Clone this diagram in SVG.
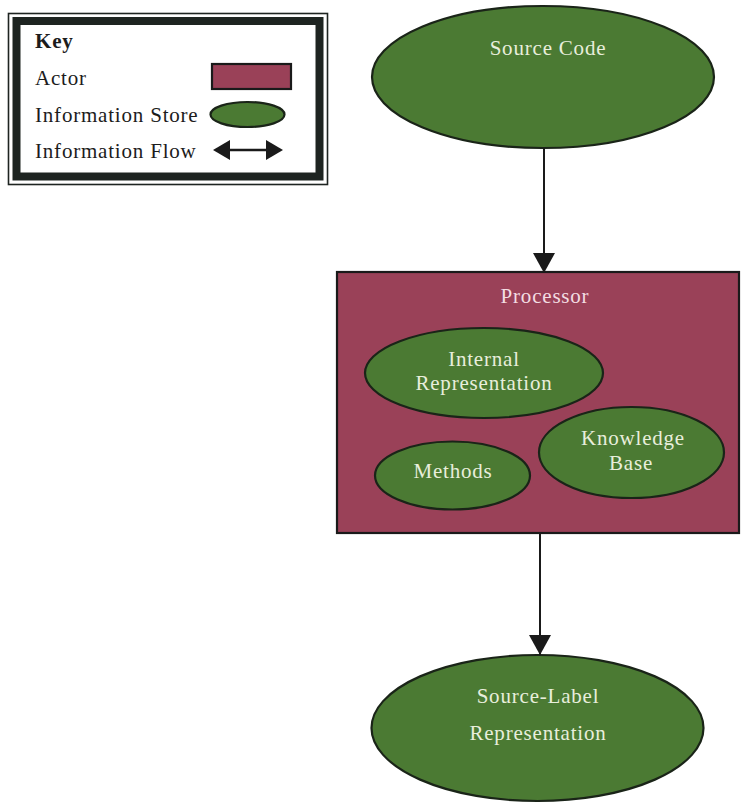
<svg xmlns="http://www.w3.org/2000/svg" width="742" height="803" viewBox="0 0 742 803">
  <style>
    .lbl { font-family: "Liberation Serif", "DejaVu Serif", serif; font-size: 21px; letter-spacing: 0.8px; }
    .key { fill: #1c1c1c; text-anchor: start; }
    .store { fill: #4b7a33; stroke: #1a2418; stroke-width: 2.2; }
    .actor { fill: #9a4158; stroke: #1a1a1a; stroke-width: 2.2; }
    .ontxt { fill: #e8eedc; text-anchor: middle; }
    .actxt { fill: #f3dde2; text-anchor: middle; }
    .flow { stroke: #1a1a1a; stroke-width: 2; fill: none; }
  </style>
  <defs>
    <marker id="head" viewBox="0 0 20 22" refX="20" refY="11" markerWidth="20" markerHeight="22" markerUnits="userSpaceOnUse" orient="auto">
      <path d="M0,0 L20,11 L0,22 Z" fill="#1a1a1a"/>
    </marker>
  </defs>

  <rect width="742" height="803" fill="#ffffff"/>

  <!-- legend panel with a triple frame -->
  <g id="legend">
    <rect x="8.5" y="13.5" width="319" height="171" fill="none" stroke="#1e2421" stroke-width="1.6"/>
    <rect x="16.5" y="21" width="303" height="155.5" fill="#ffffff" stroke="#1e2421" stroke-width="8"/>
    <text class="lbl key" x="35" y="48" font-weight="bold">Key</text>
    <text class="lbl key" x="35" y="85">Actor</text>
    <text class="lbl key" x="35" y="122">Information Store</text>
    <text class="lbl key" x="35" y="158">Information Flow</text>
    <rect class="actor" x="212" y="64" width="79" height="25"/>
    <ellipse class="store" cx="247.5" cy="114.5" rx="37" ry="12.5"/>
    <line x1="228" y1="150" x2="268" y2="150" stroke="#1a1a1a" stroke-width="2.5"/>
    <path d="M213,150 L230,140 L230,160 Z" fill="#1a1a1a"/>
    <path d="M283,150 L266,140 L266,160 Z" fill="#1a1a1a"/>
  </g>

  <g id="source-code">
    <ellipse class="store" cx="543" cy="77" rx="171" ry="71"/>
    <text class="lbl ontxt" x="548" y="55">Source Code</text>
  </g>

  <g id="processor">
    <rect class="actor" x="337" y="272" width="402" height="261"/>
    <text class="lbl actxt" x="545" y="303">Processor</text>
  </g>

  <g id="internal-representation">
    <ellipse class="store" cx="484" cy="373" rx="119" ry="45"/>
    <text class="lbl ontxt" x="484" y="366">Internal</text>
    <text class="lbl ontxt" x="484" y="390">Representation</text>
  </g>

  <g id="methods">
    <ellipse class="store" cx="452.5" cy="475.5" rx="77.5" ry="34"/>
    <text class="lbl ontxt" x="453" y="478">Methods</text>
  </g>

  <g id="knowledge-base">
    <ellipse class="store" cx="631.5" cy="452.5" rx="92.5" ry="45.5"/>
    <text class="lbl ontxt" x="633" y="445">Knowledge</text>
    <text class="lbl ontxt" x="631" y="470">Base</text>
  </g>

  <g id="source-label-representation">
    <ellipse class="store" cx="537.5" cy="728" rx="166" ry="73"/>
    <text class="lbl ontxt" x="538" y="703">Source-Label</text>
    <text class="lbl ontxt" x="538" y="740">Representation</text>
  </g>

  <g id="connectors">
    <line class="flow" x1="544" y1="148" x2="544" y2="273" marker-end="url(#head)"/>
    <line class="flow" x1="540" y1="533" x2="540" y2="655" marker-end="url(#head)"/>
  </g>
</svg>
